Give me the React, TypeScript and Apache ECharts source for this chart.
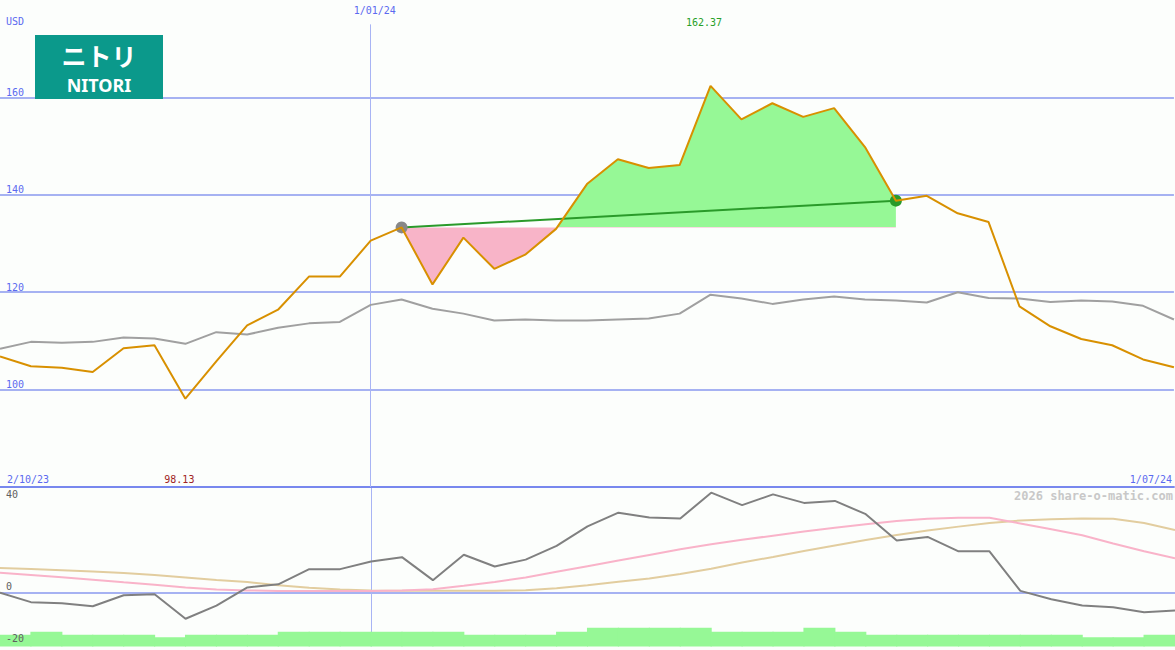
import { useEffect, useRef } from 'react';
import * as echarts from 'echarts';

// ---------- data ----------
const dateTickIdx = [0, 12, 38];
const dateTickText = ['2/10/23', '1/01/24', '1/07/24'];

const price = [
  106.8, 104.8, 104.5, 103.6, 108.5, 109.1, 98.13, 105.8, 113.2, 116.4,
  123.2, 123.2, 130.6, 133.3, 121.6, 131.2, 124.8, 127.7, 133.0, 142.2,
  147.3, 145.5, 146.1, 162.37, 155.5, 158.8, 156.0, 157.8, 149.8, 138.8,
  139.8, 136.2, 134.4, 117.1, 113.0, 110.4, 109.1, 106.2, 104.6,
];
const benchmark = [
  108.4, 109.8, 109.6, 109.8, 110.7, 110.5, 109.4, 111.8, 111.3, 112.7,
  113.6, 113.9, 117.4, 118.5, 116.6, 115.6, 114.2, 114.4, 114.2, 114.2,
  114.4, 114.6, 115.6, 119.5, 118.7, 117.6, 118.5, 119.1, 118.5, 118.3,
  117.9, 120.0, 118.8, 118.7, 118.0, 118.3, 118.1, 117.2, 114.4,
];
const momentum = [
  0, -3.9, -4.4, -5.6, -1.1, -0.7, -10.7, -5.3, 2.1, 3.4,
  9.6, 9.6, 12.7, 14.5, 5.1, 15.5, 10.7, 13.5, 19.1, 27.1,
  32.7, 30.7, 30.3, 40.9, 35.8, 40.2, 36.7, 37.5, 32.1, 21.3,
  22.8, 16.9, 16.9, 0.7, -2.7, -5.3, -6.0, -8.0, -7.3,
];
const momentumFast = [
  8.1, 7.2, 6.3, 5.3, 4.2, 3.2, 2.1, 1.3, 0.9, 0.7,
  0.7, 0.7, 0.7, 0.9, 1.4, 2.8, 4.3, 6.2, 8.5, 10.8,
  13.1, 15.4, 17.7, 19.8, 21.6, 23.3, 25.0, 26.5, 28.0, 29.3,
  30.2, 30.6, 30.6, 28.3, 25.9, 23.5, 20.1, 16.9, 14.0,
];
const momentumSlow = [
  10.1, 9.7, 9.2, 8.6, 8.0, 7.2, 6.2, 5.2, 4.3, 3.0,
  2.0, 1.3, 0.9, 0.8, 0.8, 0.8, 0.8, 1.0, 1.8, 3.0,
  4.4, 5.8, 7.6, 9.8, 12.3, 14.6, 17.0, 19.3, 21.5, 23.6,
  25.4, 27.0, 28.5, 29.5, 30.0, 30.3, 30.2, 28.5, 25.6,
];
const volumeLevel = [
  4.8, 6.0, 4.8, 4.8, 4.8, 3.7, 4.8, 4.8, 4.8, 6.0,
  6.0, 6.0, 6.0, 6.0, 6.0, 4.8, 4.8, 4.8, 6.0, 7.6,
  7.6, 7.6, 7.6, 6.0, 6.0, 6.0, 7.6, 6.0, 4.8, 4.8,
  4.8, 4.8, 4.8, 4.8, 4.8, 3.7, 3.7, 4.8,
];
const compareStart = 13;
const compareEnd = 29;
const lowerTicks = [40, 0, -20];
const currency = 'USD';
const watermark = '2026 share-o-matic.com';
const logoKana = 'ニトリ';
const logoLatin = 'NITORI';

// ---------- styles ----------
const FONT = '"DejaVu Sans Mono", monospace';
const BLUE = '#5b6af0';
const GRID_BLUE = '#a6b2f2';
const FILL_GREEN = '#96f896';
const FILL_PINK = '#f8b4c8';

export default function App() {
  const ref = useRef<HTMLDivElement>(null);

  useEffect(() => {
    if (!ref.current) return;
    const chart = echarts.init(ref.current, null, { renderer: 'svg' });

    const n = price.length;
    const lastIdx = n - 1;
    const maxVal = Math.max(...price);
    const maxIdx = price.indexOf(maxVal);
    const minVal = Math.min(...price);
    const minIdx = price.indexOf(minVal);
    const base = price[compareStart];
    const xy = (arr: number[]) => arr.map((v, i) => [i, v]);
    const slice = price.slice(compareStart, compareEnd + 1);
    const fillData = slice.map((v, k) => [compareStart + k, v]);
    // gradient split at the baseline, relative to the area's bounding box
    const hi = Math.max(base, ...slice);
    const lo = Math.min(base, ...slice);
    const split = (hi - base) / (hi - lo);
    const fillGradient = new echarts.graphic.LinearGradient(0, 0, 0, 1, [
      { offset: 0, color: FILL_GREEN },
      { offset: split, color: FILL_GREEN },
      { offset: split, color: FILL_PINK },
      { offset: 1, color: FILL_PINK },
    ]);

    const option: any = {
      animation: false,
      backgroundColor: '#fcfefc',
      textStyle: { fontFamily: FONT, fontSize: 10 },
      grid: [
        { left: 0, right: 0, top: 0, height: 487 },
        { left: 0, right: 0, top: 488, height: 162 },
      ],
      xAxis: [
        {
          gridIndex: 0,
          type: 'value',
          min: 0,
          max: lastIdx,
          position: 'bottom',
          axisLine: { show: true, onZero: false, lineStyle: { color: '#7888ee', width: 2 } },
          axisTick: { show: false },
          splitLine: { show: false },
          axisLabel: {
            inside: true,
            margin: 3,
            customValues: [dateTickIdx[0], minIdx, dateTickIdx[2]],
            formatter: (v: number) => {
              if (v === dateTickIdx[0]) return `{l|${dateTickText[0]}}`;
              if (v === dateTickIdx[2]) return `{r|${dateTickText[2]}}`;
              return `{m|${minVal.toFixed(2)}}`;
            },
            rich: {
              l: { color: BLUE, fontFamily: FONT, fontSize: 10, padding: [0, 0, 0, 56] },
              r: { color: BLUE, fontFamily: FONT, fontSize: 10, padding: [0, 46, 0, 0] },
              m: { color: '#a02424', fontFamily: FONT, fontSize: 10, padding: [0, 12, 0, 0] },
            },
          },
        },
        {
          gridIndex: 0,
          type: 'value',
          min: 0,
          max: lastIdx,
          position: 'top',
          axisLine: { show: false },
          axisTick: { show: false },
          splitLine: { show: false },
          axisLabel: {
            inside: true,
            margin: 4,
            customValues: [dateTickIdx[1], maxIdx],
            formatter: (v: number) => {
              if (v === dateTickIdx[1]) return `{d|${dateTickText[1]}}`;
              return `{s| }\n{g|${maxVal.toFixed(2)}}`;
            },
            rich: {
              d: { color: BLUE, fontFamily: FONT, fontSize: 10, lineHeight: 12, padding: [0, 0, 0, 8] },
              s: { fontFamily: FONT, fontSize: 10, lineHeight: 12 },
              g: { color: '#28a028', fontFamily: FONT, fontSize: 10, lineHeight: 12, padding: [0, 13, 0, 0] },
            },
          },
        },
        { gridIndex: 1, type: 'value', min: 0, max: lastIdx, show: false },
      ],
      yAxis: [
        {
          gridIndex: 0,
          type: 'value',
          min: 80,
          max: 180,
          interval: 20,
          axisLine: { show: false },
          axisTick: { show: false },
          splitLine: {
            show: true,
            showMinLine: false,
            showMaxLine: false,
            lineStyle: { color: GRID_BLUE, width: 2 },
          },
          axisLabel: {
            inside: true,
            margin: 6,
            verticalAlign: 'bottom',
            color: BLUE,
            fontFamily: FONT,
            fontSize: 10,
            showMinLabel: false,
            showMaxLabel: false,
          },
        },
        {
          gridIndex: 1,
          type: 'value',
          min: -22,
          max: 42.8,
          z: 8,
          axisLine: { show: false },
          axisTick: { show: false },
          splitLine: { show: false },
          axisLabel: {
            inside: true,
            margin: 6,
            verticalAlign: 'middle',
            customValues: lowerTicks,
            formatter: (v: number) => {
              if (v === 0) return `{a|${v}}\n{s| }`;
              if (v < 0) return `{a|${v}}\n{t| }`;
              return `{a|${v}}`;
            },
            rich: {
              a: { color: '#606060', fontFamily: FONT, fontSize: 10, lineHeight: 12 },
              s: { fontFamily: FONT, fontSize: 10, lineHeight: 12 },
              t: { fontFamily: FONT, fontSize: 5, lineHeight: 6 },
            },
          },
        },
        { gridIndex: 1, type: 'value', min: 0, max: 64.8, show: false },
      ],
      series: [
        {
          type: 'line',
          name: 'fill',
          xAxisIndex: 0,
          yAxisIndex: 0,
          data: fillData,
          symbol: 'none',
          silent: true,
          lineStyle: { width: 0, opacity: 0 },
          areaStyle: { origin: base, opacity: 1, color: fillGradient },
          z: 1,
        },
        {
          type: 'line',
          name: 'benchmark',
          xAxisIndex: 0,
          yAxisIndex: 0,
          data: xy(benchmark),
          symbol: 'none',
          lineStyle: { color: '#a0a0a0', width: 2 },
          z: 2,
          markLine: {
            silent: true,
            z: 1,
            symbol: 'none',
            label: { show: false },
            lineStyle: { color: '#a8b4f4', width: 1, type: 'solid' },
            data: [[{ coord: [dateTickIdx[1], 175] }, { coord: [dateTickIdx[1], 80] }]],
          },
        },
        {
          type: 'line',
          name: 'compare',
          xAxisIndex: 0,
          yAxisIndex: 0,
          data: [
            { value: [compareStart, base], itemStyle: { color: '#888888' } },
            { value: [compareEnd, price[compareEnd]], itemStyle: { color: '#2a9a2a' } },
          ],
          symbol: 'circle',
          symbolSize: 12,
          lineStyle: { color: '#2a9a2a', width: 2 },
          itemStyle: { color: '#2a9a2a' },
          z: 3,
        },
        {
          type: 'line',
          name: 'price',
          xAxisIndex: 0,
          yAxisIndex: 0,
          data: xy(price),
          symbol: 'none',
          lineStyle: { color: '#d89000', width: 2 },
          z: 4,
        },
        {
          type: 'bar',
          name: 'volume',
          xAxisIndex: 2,
          yAxisIndex: 2,
          data: volumeLevel.map((v, i) => [i + 0.5, v]),
          barWidth: 32,
          silent: true,
          itemStyle: { color: FILL_GREEN },
          z: 4,
        },
        {
          type: 'line',
          name: 'slow',
          xAxisIndex: 2,
          yAxisIndex: 1,
          data: xy(momentumSlow),
          symbol: 'none',
          lineStyle: { color: '#e2cd9f', width: 2 },
          z: 2,
          markLine: {
            silent: true,
            z: 1,
            symbol: 'none',
            label: { show: false },
            lineStyle: { color: GRID_BLUE, width: 2, type: 'solid' },
            data: [
              { yAxis: 0 },
              { xAxis: dateTickIdx[1], lineStyle: { color: '#a8b4f4', width: 1, type: 'solid' } },
            ],
          },
        },
        {
          type: 'line',
          name: 'fast',
          xAxisIndex: 2,
          yAxisIndex: 1,
          data: xy(momentumFast),
          symbol: 'none',
          lineStyle: { color: '#f9b3c9', width: 2 },
          z: 2,
        },
        {
          type: 'line',
          name: 'momentum',
          xAxisIndex: 2,
          yAxisIndex: 1,
          data: xy(momentum),
          symbol: 'none',
          lineStyle: { color: '#808080', width: 2 },
          z: 3,
        },
      ],
      graphic: {
        elements: [
          {
            type: 'rect',
            shape: { x: 35, y: 35, width: 128, height: 64 },
            style: { fill: '#0b998b' },
            z: 20,
          },
          {
            type: 'text',
            x: 99,
            y: 55,
            z: 21,
            style: {
              text: logoKana,
              fill: '#ffffff',
              font: 'bold 25px "Noto Sans CJK JP"',
              align: 'center',
              verticalAlign: 'middle',
            },
          },
          {
            type: 'text',
            x: 99,
            y: 85,
            z: 21,
            style: {
              text: logoLatin,
              fill: '#ffffff',
              font: 'bold 18px "Noto Sans"',
              align: 'center',
              verticalAlign: 'middle',
            },
          },
          {
            type: 'text',
            x: 6,
            y: 21,
            z: 21,
            style: {
              text: currency,
              fill: BLUE,
              font: '10px "DejaVu Sans Mono"',
              align: 'left',
              verticalAlign: 'middle',
            },
          },
          {
            type: 'text',
            x: 1173,
            y: 496,
            z: 21,
            style: {
              text: watermark,
              fill: '#c8c8c8',
              font: 'bold 12px "DejaVu Sans Mono"',
              align: 'right',
              verticalAlign: 'middle',
            },
          },
        ],
      },
    };

    chart.setOption(option);
    return () => chart.dispose();
  }, []);

  return (
    <div
      ref={ref}
      style={{ position: 'absolute', left: 0, top: 0, width: 1175, height: 650 }}
    />
  );
}
